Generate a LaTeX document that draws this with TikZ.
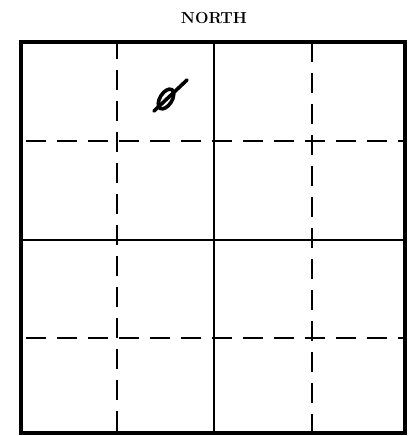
\documentclass[tikz,border=0pt]{standalone}
\usepackage{fontspec}
\usetikzlibrary{calc}

\begin{document}
\begin{tikzpicture}[
  x=1pt, y=-1pt,
  rand/.style={line width=3.4pt},
  hel/.style={line width=1.5pt},
  stiplet/.style={line width=1.5pt, dash pattern=on 20pt off 11pt},
  merke/.style={line width=3.6pt, line cap=round}
]
\useasboundingbox (0,0) rectangle (407,436);
\node[font=\fontsize{16}{18}\selectfont\bfseries] (nord) at (214,18.5) {NORTH};
\draw[rand] (21,42) rectangle (405,433);
\coordinate (nv) at (21,42);
\coordinate (oh) at (405,433);
% solid centre lines
\draw[hel] (214,42) -- (214,433);
\draw[hel] (21,240) -- (405,240);
% dashed lines
\draw[stiplet, dash phase=5pt] (117,44) -- (117,433);
\draw[stiplet, dash phase=2pt] (312,44) -- (312,433);
\draw[stiplet, dash phase=-3pt] (23,141) -- (405,141);
\draw[stiplet, dash phase=-3pt] (23,338) -- (405,338);
% the mark
\draw[merke, rotate around={58:(166,99)}] (166,99) ellipse (11 and 6);
\draw[merke] (154,111) -- (187,80);
\end{tikzpicture}
\end{document}
